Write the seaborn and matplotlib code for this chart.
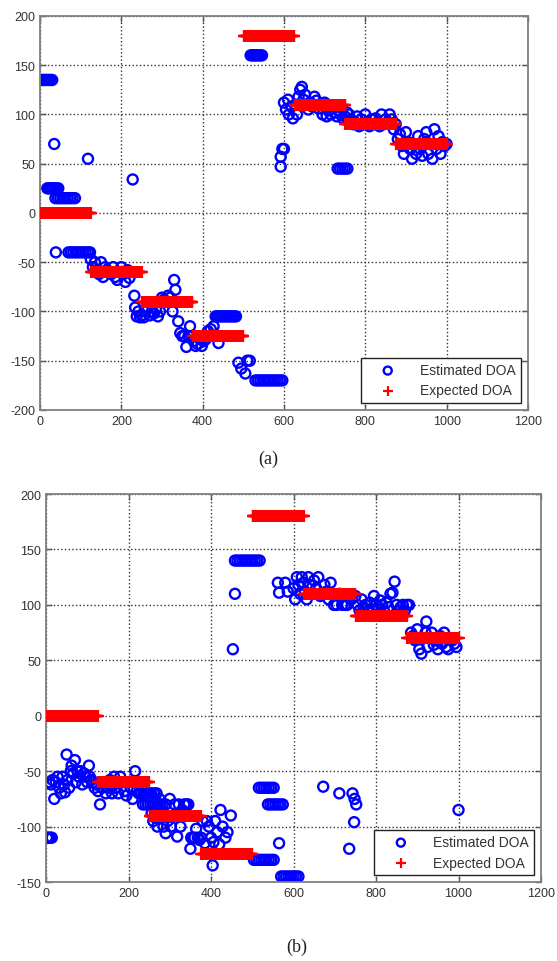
import numpy as np
import matplotlib
matplotlib.use("Agg")
import matplotlib.pyplot as plt
import seaborn as sns

# expected DOA: one level per block of 125 samples
block_len = 125
expected_levels = [0, -60, -90, -125, 180, 110, 90, 70]

# estimated DOA, panel (a)
est_a_x = [2, 6, 10, 14, 18, 22, 26, 30,
           18, 22, 26, 30, 35, 40, 45,
           35,
           38, 44, 50, 56, 62, 68, 74, 80, 86,
           39,
           70, 76, 82, 88, 94, 100, 106, 112, 118, 123,
           118,
           125, 130, 135, 140, 145, 150, 155, 160, 165, 170, 175, 180, 185, 190,
           195, 200, 205, 210, 215, 220, 225, 228, 232, 234, 238, 242, 246,
           250, 255, 260, 265, 270, 275, 280, 285, 290, 295, 300, 305, 310, 315,
           320, 326, 330, 333, 340, 345, 350, 355, 360, 365, 369, 372,
           378, 383, 388, 393, 398, 403, 408, 413, 420, 427, 432, 437, 439, 442,
           447, 452, 457, 462, 467, 472, 477, 482, 488, 495, 505, 510, 516,
           518, 522, 526, 530, 534, 538, 542, 546,
           530, 536, 542, 548, 554, 560, 566, 572, 578, 584, 590, 596,
           592, 592, 596, 600,
           600, 605, 610, 612, 618, 622, 628, 632, 636, 640, 644, 648, 652, 656,
           660, 665, 670, 675, 680, 685, 690, 695, 700, 705, 710, 715, 720, 725,
           730, 735, 740, 745,
           732, 738, 744, 750, 756,
           750, 755, 760, 765, 770, 775, 780, 785, 790, 795, 800, 805, 810, 815,
           820, 825, 830, 835, 840, 845, 850, 855, 860, 865, 870, 875,
           880, 885, 890, 895, 900, 905, 910, 915, 920, 925, 930, 935, 940, 945,
           950, 955, 960, 965, 970, 975, 980, 985, 990, 995, 1000]
est_a_y = [135, 135, 135, 135, 135, 135, 135, 135,
           25, 25, 25, 25, 25, 25, 25,
           70,
           15, 15, 15, 15, 15, 15, 15, 15, 15,
           -40,
           -40, -40, -40, -40, -40, -40, -40, -40, -40, -40,
           55,
           -47, -55, -50, -58, -62, -50, -65, -55, -58, -60, -62, -55, -65, -68,
           -60, -55, -62, -70, -58, -66, -60, 34, -84, -96, -105, -100, -106,
           -104, -106, -100, -96, -104, -100, -102, -98, -105, -100, -86, -88, -90, -84,
           -86, -100, -68, -78, -110, -122, -125, -125, -136, -125, -115, -125,
           -130, -135, -133, -128, -135, -130, -128, -120, -118, -115, -105, -105, -132, -105,
           -105, -105, -105, -105, -105, -105, -105, -105, -152, -158, -163, -150, -150,
           160, 160, 160, 160, 160, 160, 160, 160,
           -170, -170, -170, -170, -170, -170, -170, -170, -170, -170, -170, -170,
           57, 47, 65, 65,
           112, 105, 115, 100, 108, 96, 110, 100, 118, 125, 128, 115, 120, 110,
           105, 112, 108, 118, 114, 106, 110, 100, 112, 98, 104, 100, 108, 102,
           98, 104, 100, 96,
           45, 45, 45, 45, 45,
           98, 102, 100, 95, 90, 92, 98, 88, 95, 90, 100, 92, 88, 95,
           90, 96, 92, 88, 100, 90, 95, 92, 100, 95, 85, 90,
           75, 80, 68, 60, 82, 72, 65, 55, 70, 60, 78, 65, 58, 75,
           82, 60, 70, 55, 85, 65, 78, 60, 72, 68, 70]

# estimated DOA, panel (b)
est_b_x = [2, 6, 10, 14,
           8, 12, 16, 20, 24, 28, 32, 36, 40, 44, 46, 50, 52, 56, 60, 62, 66, 70,
           72, 76, 80, 84, 88, 92, 96, 100, 104, 106, 110, 114, 118, 122,
           126, 131, 136, 140, 145, 150, 155, 160, 165, 170, 175, 180, 185, 190,
           195, 200, 205, 210, 216, 220, 225, 230, 236, 240, 245, 250, 255, 262, 268,
           235, 241, 247, 253, 259, 265, 271, 277, 283, 290,
           256, 260, 265, 270, 275, 280, 285, 290, 295, 300, 303, 308, 312, 318,
           322, 326, 330, 335, 340, 345, 350, 352, 356, 360, 364, 368, 372,
           376, 380, 385, 390, 395, 400, 404, 406, 410, 415, 420, 423, 428, 435,
           440, 448, 453, 458,
           458, 464, 470, 476, 482, 488, 494, 500, 506, 512, 518,
           504, 510, 516, 522, 528, 534, 540, 546, 552,
           516, 522, 528, 534, 540, 546, 552,
           538, 544, 550, 556, 562, 568, 574,
           565, 562, 565, 580, 586,
           570, 576, 582, 588, 594, 600, 606, 612,
           600, 604, 608, 612, 616, 620, 624, 628, 632, 636, 640, 645, 650, 655,
           660, 665, 672, 675, 680, 685, 690, 698, 705, 711, 712, 718, 725, 730,
           735, 740, 743, 747, 748, 752,
           750, 755, 760, 765, 770, 775, 780, 785, 790, 795, 800, 805, 810, 815,
           820, 825, 830, 835, 840, 845, 850, 855, 860, 865, 870, 875, 880,
           885, 890, 895, 900, 905, 910, 915, 920, 922, 925, 930, 935, 940, 945,
           950, 955, 960, 965, 970, 975, 980, 985, 990, 995, 1000]
est_b_y = [-110, -110, -110, -110,
           -60, -62, -58, -75, -60, -55, -65, -70, -55, -62, -69, -35, -58, -65, -50, -45, -52, -40,
           -60, -50, -55, -50, -62, -52, -55, -60, -45, -55, -58, -60, -65, -62,
           -68, -80, -65, -60, -70, -65, -58, -70, -55, -65, -70, -55, -60, -68,
           -72, -60, -65, -75, -50, -68, -70, -70, -70, -70, -70, -70, -70, -70, -70,
           -80, -80, -80, -80, -80, -80, -80, -80, -80, -80,
           -88, -95, -92, -100, -75, -85, -100, -106, -95, -75, -100, -90, -80, -109,
           -80, -100, -85, -80, -80, -80, -120, -110, -110, -110, -102, -110, -112,
           -110, -95, -115, -95, -100, -110, -135, -114, -95, -105, -116, -85, -100, -110,
           -105, -90, 60, 110,
           140, 140, 140, 140, 140, 140, 140, 140, 140, 140, 140,
           -130, -130, -130, -130, -130, -130, -130, -130, -130,
           -65, -65, -65, -65, -65, -65, -65,
           -80, -80, -80, -80, -80, -80, -80,
           -115, 120, 111, 120, 112,
           -145, -145, -145, -145, -145, -145, -145, -145,
           115, 105, 125, 118, 110, 125, 120, 112, 105, 125, 118, 110, 122, 115,
           125, 108, -64, 118, 112, 105, 120, 100, 100, -70, 110, 100, 100, 100,
           -120, 105, -70, -96, -75, -80,
           108, 100, 95, 105, 98, 100, 94, 102, 96, 108, 100, 96, 104, 100,
           94, 102, 98, 110, 111, 121, 100, 95, 98, 100, 95, 100, 100,
           75, 72, 68, 78, 60, 56, 70, 75, 85, 62, 70, 75, 64, 68,
           60, 72, 65, 75, 62, 60, 70, 68, 65, 62, -85]

exp_x = np.arange(1, block_len * len(expected_levels) + 1)
exp_y = np.repeat(expected_levels, block_len)

x_ticks = [0, 200, 400, 600, 800, 1000, 1200]
y_ticks_a = [-200, -150, -100, -50, 0, 50, 100, 150, 200]
y_ticks_b = [-150, -100, -50, 0, 50, 100, 150, 200]

sns.set_style("white")
plt.rcParams["font.family"] = ["Liberation Sans", "DejaVu Sans"]
plt.rcParams["axes.unicode_minus"] = False

fig = plt.figure(figsize=(5.57, 9.62), dpi=100)
ax_a = fig.add_axes([0.0718, 0.5728, 0.876, 0.4096])
ax_b = fig.add_axes([0.0826, 0.0821, 0.8887, 0.4033])


def draw_panel(ax, est_x, est_y, y_ticks):
    sns.scatterplot(x=est_x, y=est_y, ax=ax, marker="o", s=52,
                    color="blue", facecolor="none", edgecolor="blue",
                    linewidth=1.7, label="Estimated DOA", zorder=2)
    sns.scatterplot(x=exp_x, y=exp_y, ax=ax, marker="+", s=75,
                    color="red", linewidth=1.6, label="Expected DOA", zorder=3)
    ax.set_xlim(0, 1200)
    ax.set_ylim(y_ticks[0], y_ticks[-1])
    ax.set_xticks(x_ticks)
    ax.set_yticks(y_ticks)
    ax.grid(True, linestyle=":", color="#333333", linewidth=1.0)
    ax.set_axisbelow(True)
    ax.tick_params(direction="in", length=4, width=1, colors="#555555",
                   labelcolor="#333333", labelsize=9,
                   top=True, right=True, bottom=True, left=True)
    for sp in ax.spines.values():
        sp.set_color("#808080")
        sp.set_linewidth(1.3)
    leg = ax.legend(loc="lower right", fontsize=10, frameon=True,
                    fancybox=False, framealpha=1, edgecolor="#222222",
                    borderaxespad=0.5, borderpad=0.4, handlelength=3.0,
                    handletextpad=0.8, markerscale=0.8, labelspacing=0.45)
    leg.get_frame().set_linewidth(1.0)
    for t in leg.get_texts():
        t.set_color("#333333")


draw_panel(ax_a, est_a_x, est_a_y, y_ticks_a)
draw_panel(ax_b, est_b_x, est_b_y, y_ticks_b)

fig.text(0.481, 0.522, "(a)", ha="center", va="center", fontsize=13,
         family=["Liberation Serif", "DejaVu Serif"], color="#222222")
fig.text(0.533, 0.0156, "(b)", ha="center", va="center", fontsize=13,
         family=["Liberation Serif", "DejaVu Serif"], color="#222222")

fig.savefig("out.png", dpi=100)
